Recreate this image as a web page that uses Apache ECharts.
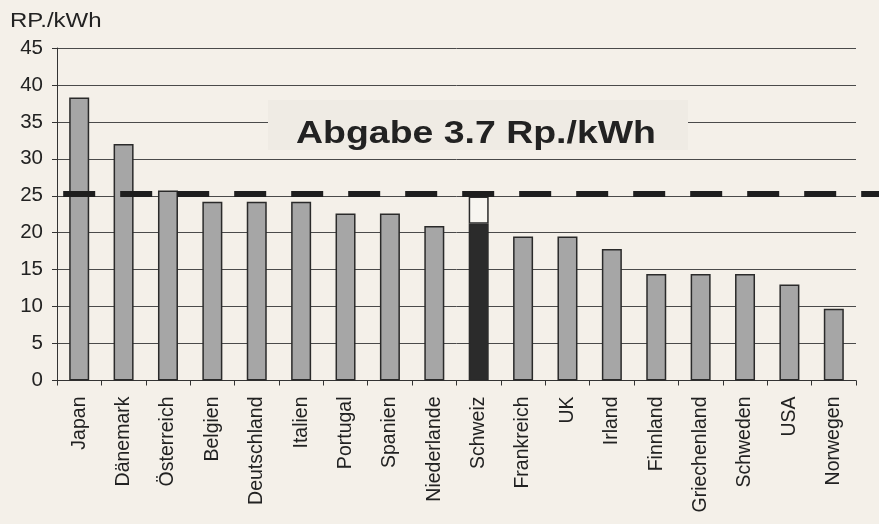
<!DOCTYPE html>
<html>
<head>
<meta charset="utf-8">
<script src="https://cdn.jsdelivr.net/npm/echarts@6/dist/echarts.min.js"></script>
<style>
  html, body { margin: 0; padding: 0; background: #f4f0e9; }
  #chart { width: 879px; height: 524px; }
</style>
</head>
<body>
<div id="chart"></div>
<script>
// Strompreise je Land in Rp./kWh
const countries = ['Japan', 'Dänemark', 'Österreich', 'Belgien', 'Deutschland', 'Italien',
  'Portugal', 'Spanien', 'Niederlande', 'Schweiz', 'Frankreich', 'UK', 'Irland',
  'Finnland', 'Griechenland', 'Schweden', 'USA', 'Norwegen'];
const prices = [38.3, 32.0, 25.7, 24.2, 24.2, 24.2, 22.6, 22.6, 20.9, 21.2, 19.5, 19.5,
  17.8, 14.4, 14.4, 14.4, 13.0, 9.7];
const levyCountry = 'Schweiz';
const levy = 3.7;                 // Abgabe auf dem Schweizer Preis
const levelLine = 25.25;          // Niveau nach Abgabe (gestrichelte Linie)
const yTicks = [0, 5, 10, 15, 20, 25, 30, 35, 40, 45];

const chart = echarts.init(document.getElementById('chart'));
const font = 'Liberation Sans, Arial, sans-serif';

const priceData = prices.map((v, i) => countries[i] === levyCountry
  ? { value: v, itemStyle: { color: '#2b2b2b' } }
  : v);
const levyData = countries.map(c => c === levyCountry ? levy : '-');

chart.setOption({
  backgroundColor: '#f4f0e9',
  animation: false,
  grid: { left: 57, right: 23, top: 48, bottom: 143.5 },
  xAxis: {
    type: 'category',
    data: countries,
    boundaryGap: true,
    axisLine: { lineStyle: { color: '#333', width: 1 } },
    axisTick: { show: true, length: 5, inside: false, lineStyle: { color: '#333' } },
    axisLabel: {
      rotate: 90, interval: 0, margin: 16,
      fontFamily: font, fontSize: 19.5, color: '#222'
    }
  },
  yAxis: {
    type: 'value',
    min: yTicks[0], max: yTicks[yTicks.length - 1], interval: 5,
    axisLine: { show: true, lineStyle: { color: '#333', width: 1 } },
    axisTick: { show: true, length: 5, lineStyle: { color: '#333' } },
    axisLabel: { fontFamily: font, fontSize: 20.5, color: '#222', margin: 14 },
    splitLine: { lineStyle: { color: '#4a4a4a', width: 1 } }
  },
  series: [
    {
      name: 'Preis', type: 'bar', stack: 'p', barWidth: 20,
      data: priceData,
      itemStyle: { color: '#a6a6a6', borderColor: '#2a2a2a', borderWidth: 1.5 },
      z: 3
    },
    {
      name: 'Abgabe', type: 'bar', stack: 'p', barWidth: 20,
      data: levyData,
      itemStyle: { color: '#f7f5f0', borderColor: '#2a2a2a', borderWidth: 1.5 },
      z: 3
    }
  ]
});

// Gestrichelte Linie auf dem Niveau inkl. Abgabe, bis zum rechten Rand
const yPix = chart.convertToPixel({ yAxisIndex: 0 }, levelLine);
const x0 = chart.convertToPixel({ xAxisIndex: 0 }, countries[0]) - 16;
const textY = chart.convertToPixel({ yAxisIndex: 0 }, 35);
chart.setOption({
  graphic: [
    {
      type: 'text', left: 10, top: 11,
      style: { text: 'RP./kWh', font: '20px ' + font, fill: '#222' },
      scaleX: 1.2
    },
    {
      type: 'line', z: 10,
      shape: { x1: x0, y1: yPix, x2: 879, y2: yPix },
      style: { stroke: '#1e1e1e', lineWidth: 6, lineDash: [32, 25] }
    },
    {
      type: 'rect', z: 8,
      shape: { x: 268, y: textY - 22, width: 420, height: 50 },
      style: { fill: '#efebe4' }
    },
    {
      type: 'text', z: 9,
      x: 476, y: textY + 12,
      style: {
        text: 'Abgabe 3.7 Rp./kWh', font: 'bold 32px ' + font, fill: '#222',
        textAlign: 'center', textVerticalAlign: 'middle'
      },
      scaleX: 1.17, originX: 0, originY: 0
    }
  ]
});
</script>
</body>
</html>
